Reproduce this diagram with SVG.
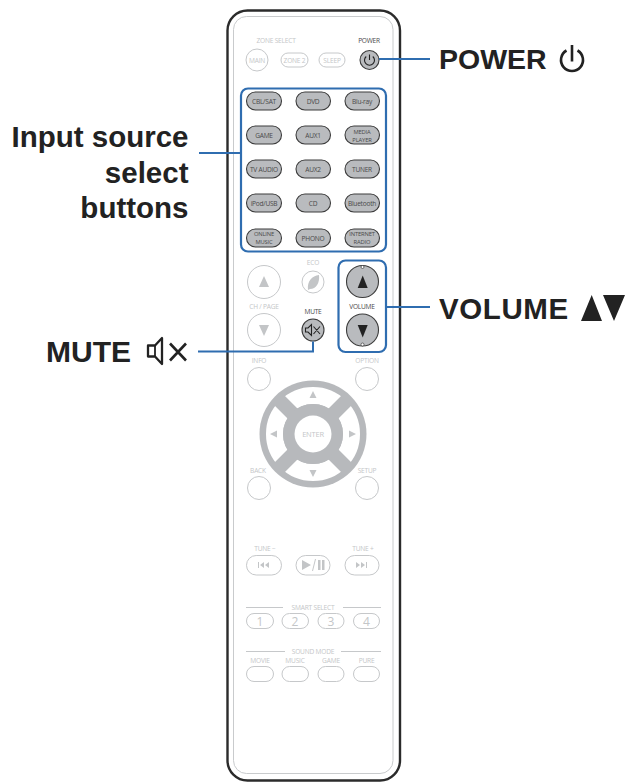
<svg xmlns="http://www.w3.org/2000/svg" width="632" height="784" viewBox="0 0 632 784">
<style>
text{font-family:"Open Sans","Noto Sans","Liberation Sans",sans-serif;text-anchor:middle}
.t{font-size:6.6px;fill:#c4c6c8;letter-spacing:-.2px}
.d{font-size:6.6px;fill:#4a4a4a;letter-spacing:-.25px}
.s{font-size:5.8px;fill:#4a4a4a;letter-spacing:-.15px}
.b{fill:#b9bbbe;stroke:#3c3c3c;stroke-width:1.100}
.w{fill:#fff;stroke:#c6c8ca;stroke-width:1}
.g{fill:#c3c5c7}
.k{fill:#222}
.l{font-family:"Liberation Sans",Arial,sans-serif;font-weight:700;font-size:29.500px;fill:#222;text-anchor:start}
.r{text-anchor:end}
.c{fill:none;stroke:#2f6db0;stroke-width:2}
.box{fill:none;stroke:#2f6db0;stroke-width:2.200}
.n{font-size:12px;fill:#c4c6c8}
.h{stroke:#c6c8ca;stroke-width:1;fill:none}
</style>
<g id="remote-body">
<rect x="227.500" y="10.500" width="172.500" height="770" rx="20" fill="#fff" stroke="#2b2b2b" stroke-width="2.400"/>
<rect x="233.500" y="16.500" width="159.500" height="757" rx="13" fill="#fff" stroke="#c9cbcd" stroke-width="1"/>
</g>
<g id="zone-select">
<text class="t" x="276" y="42.500">ZONE SELECT</text>
<circle class="w" cx="257" cy="60" r="11"/><text class="t" x="257" y="62.500">MAIN</text>
<rect class="w" x="281" y="53" width="27" height="14" rx="7"/><text class="t" x="294.500" y="62.500">ZONE 2</text>
<rect class="w" x="319" y="53" width="26" height="14" rx="7"/><text class="t" x="332" y="62.500">SLEEP</text>
</g>
<g id="power-button">
<text class="d" x="369" y="42.500">POWER</text>
<circle class="b" cx="369.500" cy="60" r="9.500"/>
<path d="M366.200 56.500a5 5 0 1 0 6.600 0M369.500 54.500v5.500" fill="none" stroke="#222" stroke-width="1.100"/>
</g>
<g id="input-buttons">
<rect class="b" x="246.500" y="92" width="35" height="18" rx="9"/><text class="d" x="264" y="103.500">CBL/SAT</text>
<rect class="b" x="296" y="92" width="34.500" height="18" rx="9"/><text class="d" x="313" y="103.500">DVD</text>
<rect class="b" x="345" y="92" width="34.500" height="18" rx="9"/><text class="d" x="362" y="103.500">Blu-ray</text>
<rect class="b" x="246.500" y="126" width="35" height="18" rx="9"/><text class="d" x="264" y="137.500">GAME</text>
<rect class="b" x="296" y="126" width="34.500" height="18" rx="9"/><text class="d" x="313" y="137.500">AUX1</text>
<rect class="b" x="345" y="126" width="34.500" height="18" rx="9"/><text class="s" x="362" y="133.800">MEDIA</text><text class="s" x="362" y="141.600">PLAYER</text>
<rect class="b" x="246.500" y="160" width="35" height="18" rx="9"/><text class="d" x="264" y="171.500">TV AUDIO</text>
<rect class="b" x="296" y="160" width="34.500" height="18" rx="9"/><text class="d" x="313" y="171.500">AUX2</text>
<rect class="b" x="345" y="160" width="34.500" height="18" rx="9"/><text class="d" x="362" y="171.500">TUNER</text>
<rect class="b" x="246.500" y="194" width="35" height="18" rx="9"/><text class="d" x="264" y="205.500">iPod/USB</text>
<rect class="b" x="296" y="194" width="34.500" height="18" rx="9"/><text class="d" x="313" y="205.500">CD</text>
<rect class="b" x="345" y="194" width="34.500" height="18" rx="9"/><text class="d" x="362" y="205.500">Bluetooth</text>
<rect class="b" x="246.500" y="229" width="35" height="18" rx="9"/><text class="s" x="264" y="236.400">ONLINE</text><text class="s" x="264" y="244.200">MUSIC</text>
<rect class="b" x="296" y="229" width="34.500" height="18" rx="9"/><text class="d" x="313" y="240.500">PHONO</text>
<rect class="b" x="345" y="229" width="34.500" height="18" rx="9"/><text class="s" x="362" y="236.400">INTERNET</text><text class="s" x="362" y="244.200">RADIO</text>
</g>
<g id="channel-eco">
<text class="t" x="313" y="265">ECO</text>
<circle class="w" cx="264" cy="282" r="16.500"/><path class="g" d="M264 276l5 11h-10z"/>
<circle class="w" cx="313" cy="282" r="11"/><path class="g" d="M308 290c-1-9 4-14 11-15 1 8-3 14-9 14z"/>
<text class="t" x="264" y="309">CH / PAGE</text>
<circle class="w" cx="264" cy="330" r="16.500"/><path class="g" d="M264 336l5-11h-10z"/>
</g>
<g id="mute-button">
<text class="d" x="313" y="314">MUTE</text>
<circle class="b" cx="313" cy="330" r="11"/>
<path d="M305.500 328h2.500l3.500-3.500v11l-3.500-3.500h-2.500zM313.500 326.500l6.500 7.500M320 326.500l-6.500 7.500" fill="none" stroke="#222" stroke-width="1.100"/>
</g>
<g id="volume-buttons">
<circle class="b" cx="362.500" cy="281.500" r="16"/><path class="k" d="M362.700 275.500l5 12.500h-10z"/>
<text class="d" x="362" y="309">VOLUME</text>
<circle class="b" cx="362.500" cy="330" r="16"/><path class="k" d="M362.700 337.500l5-12.500h-10z"/>
<circle cx="362.500" cy="267" r="1.500" fill="#fff" stroke="#3c3c3c" stroke-width=".7"/>
<circle cx="362.500" cy="344.500" r="1.500" fill="#fff" stroke="#3c3c3c" stroke-width=".7"/>
</g>
<g id="nav-pad">
<text class="t" x="259" y="363">INFO</text>
<circle class="w" cx="259" cy="379" r="11.500"/>
<text class="t" x="367" y="363">OPTION</text>
<circle class="w" cx="367" cy="379" r="11.500"/>
<circle cx="313" cy="434" r="53.500" fill="#b7b9bc"/>
<circle cx="313" cy="434" r="38.500" fill="none" stroke="#fff" stroke-width="17"/>
<path d="M277 398l72 72M349 398l-72 72" stroke="#b7b9bc" stroke-width="14"/>
<circle cx="313" cy="434" r="30" fill="#b7b9bc"/>
<circle cx="313" cy="434" r="18.500" fill="#fff"/>
<text class="t" style="font-size:7.500px" x="313" y="437">ENTER</text>
<path class="g" d="M313 391l3.500 7h-7zM313 477l3.500-7h-7zM270 434l7-3.500v7zM356 434l-7-3.500v7z"/>
<text class="t" x="258" y="473">BACK</text>
<circle class="w" cx="259" cy="488" r="11.500"/>
<text class="t" x="367" y="473">SETUP</text>
<circle class="w" cx="367" cy="488" r="11.500"/>
</g>
<g id="transport">
<text class="t" x="265" y="550.500">TUNE −</text>
<text class="t" x="363" y="550.500">TUNE +</text>
<rect class="w" x="246.500" y="555.500" width="35" height="19.500" rx="9.700"/>
<rect class="w" x="296" y="555.500" width="34" height="19.500" rx="9.700"/>
<rect class="w" x="345" y="555.500" width="34" height="19.500" rx="9.700"/>
<path class="g" d="M258 562h1v6h-1zM264 562v6l-4-3zM269 562v6l-4-3z"/>
<path class="g" d="M302 560l9 5-9 5zM318 560h2.500v10h-2.500zM322 560h2.500v10h-2.500z"/>
<path class="h" d="M312.500 571l3-12"/>
<path class="g" d="M356 562v6l4-3zM361 562v6l4-3zM366 562h1v6h-1z"/>
</g>
<g id="smart-select">
<path class="h" d="M246 607.500h37M343 607.500h38"/>
<text class="t" x="313" y="610">SMART SELECT</text>
<rect class="w" x="246.500" y="613.500" width="27" height="15" rx="7.500"/><text class="n" x="260" y="625.500">1</text>
<rect class="w" x="282" y="613.500" width="26.500" height="15" rx="7.500"/><text class="n" x="295" y="625.500">2</text>
<rect class="w" x="318" y="613.500" width="26" height="15" rx="7.500"/><text class="n" x="331" y="625.500">3</text>
<rect class="w" x="353.500" y="613.500" width="26" height="15" rx="7.500"/><text class="n" x="366.500" y="625.500">4</text>
</g>
<g id="sound-mode">
<path class="h" d="M246 651.500h39M341 651.500h40"/>
<text class="t" x="313" y="654">SOUND MODE</text>
<text class="t" x="260" y="663">MOVIE</text>
<text class="t" x="295" y="663">MUSIC</text>
<text class="t" x="331" y="663">GAME</text>
<text class="t" x="366.500" y="663">PURE</text>
<rect class="w" x="246.500" y="666.500" width="27" height="15" rx="7.500"/>
<rect class="w" x="282" y="666.500" width="26.500" height="15" rx="7.500"/>
<rect class="w" x="318" y="666.500" width="26" height="15" rx="7.500"/>
<rect class="w" x="353.500" y="666.500" width="26" height="15" rx="7.500"/>
</g>
<g id="connectors">
<rect class="box" x="241" y="88.500" width="145" height="163" rx="7"/>
<rect class="box" x="338.500" y="260.500" width="47.500" height="91.500" rx="7"/>
<path class="c" d="M379 59h51M386 307h44M199 153h41M198 351.500h115v-10"/>
</g>
<g id="label-power">
<text class="l" style="font-size:28.500px" x="439" y="69">POWER</text>
<path d="M566.500 50.500a11 11 0 1 0 11 0M572 45v16.500" fill="none" stroke="#222" stroke-width="2.600"/>
</g>
<g id="label-volume">
<text class="l" style="letter-spacing:.6px" x="439" y="318.500">VOLUME</text>
<path class="k" d="M591.700 295l10.300 26h-21zM603 295h22l-11 26z"/>
</g>
<g id="label-input">
<text class="l r" x="188.500" y="147">Input source</text>
<text class="l r" x="188.500" y="183">select</text>
<text class="l r" x="188.500" y="218">buttons</text>
</g>
<g id="label-mute">
<text class="l" style="font-size:30px" x="46" y="362">MUTE</text>
<path d="M148 345.500h7l7-7.500v26l-7-7.500h-7z" fill="none" stroke="#222" stroke-width="2.300" stroke-linejoin="round"/>
<path d="M155 345.500v11" stroke="#222" stroke-width="1.800"/>
<path d="M170 343.500l16 17M186 343.500l-16 17" fill="none" stroke="#222" stroke-width="2.600"/>
</g>
</svg>
